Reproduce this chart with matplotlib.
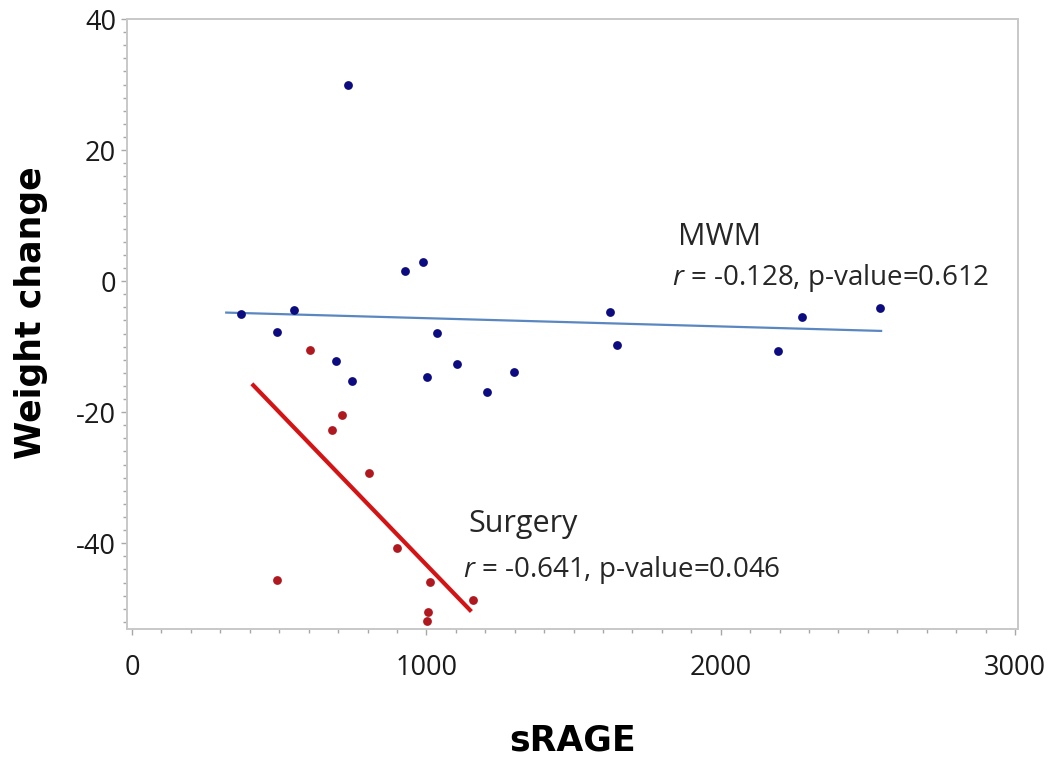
import numpy as np
import matplotlib
matplotlib.use("Agg")
import matplotlib.pyplot as plt
from matplotlib.ticker import MultipleLocator

# ------------------------------------------------------------------
# data
# ------------------------------------------------------------------
mwm_srage = [370, 493, 550, 734, 693, 748, 928, 989, 1036, 1002,
             1104, 1206, 1298, 1624, 1648, 2195, 2277, 2542]
mwm_weight = [-5.0, -7.8, -4.4, 29.9, -12.2, -15.3, 1.5, 2.9, -7.9, -14.7,
              -12.7, -16.9, -13.9, -4.7, -9.8, -10.7, -5.5, -4.1]

surg_srage = [605, 712, 679, 806, 899, 494, 1013, 1160, 1004, 1001]
surg_weight = [-10.5, -20.5, -22.7, -29.3, -40.7, -45.6, -45.9, -48.7,
               -50.5, -51.9]

# regression lines (end points as drawn in the reference)
mwm_fit_x = [320, 2545]
mwm_fit_y = [-4.8, -7.6]
surg_fit_x = [412, 1148]
surg_fit_y = [-15.9, -50.2]

mwm_label = "MWM"
mwm_stats = "$r$ = -0.128, p-value=0.612"
surg_label = "Surgery"
surg_stats = "$r$ = -0.641, p-value=0.046"

# ------------------------------------------------------------------
# plot
# ------------------------------------------------------------------
plt.rcParams["font.family"] = ["Open Sans", "DejaVu Sans"]
plt.rcParams["mathtext.fontset"] = "custom"
plt.rcParams["mathtext.it"] = "Open Sans:italic"
plt.rcParams["axes.unicode_minus"] = False

fig = plt.figure(figsize=(10.5, 7.63), dpi=100)
ax = fig.add_axes([0.121, 0.1756, 0.8485, 0.7994])

ax.plot(mwm_fit_x, mwm_fit_y, "-", color="#5b87c0", lw=1.6, zorder=2)
ax.plot(surg_fit_x, surg_fit_y, "-", color="#d41414", lw=3.0, zorder=2)
ax.scatter(mwm_srage, mwm_weight, s=40, color="#0c0c80", zorder=3,
           linewidths=0)
ax.scatter(surg_srage, surg_weight, s=40, color="#b01820", zorder=3,
           linewidths=0)

ax.text(1855, 5.5, mwm_label, fontsize=22, color="#262626", va="baseline")
ax.text(1835, -0.6, mwm_stats, fontsize=20, color="#262626", va="baseline")
ax.text(1142, -38.3, surg_label, fontsize=22, color="#262626",
        va="baseline")
ax.text(1125, -45.2, surg_stats, fontsize=20, color="#262626",
        va="baseline")

ax.set_xlim(-17, 3010)
ax.set_ylim(-53.1, 40)
ax.xaxis.set_major_locator(MultipleLocator(1000))
ax.xaxis.set_minor_locator(MultipleLocator(100))
ax.yaxis.set_major_locator(MultipleLocator(20))
ax.yaxis.set_minor_locator(MultipleLocator(2))

for s in ax.spines.values():
    s.set_color("#c8c8c8")
    s.set_linewidth(1.4)

ax.tick_params(which="both", direction="out", color="#a8a8a8", width=1,
               labelcolor="#1a1a1a", labelsize=19.5)
ax.tick_params(which="major", length=4)
ax.tick_params(which="minor", length=3)
ax.tick_params(axis="x", which="major", pad=14)
ax.tick_params(axis="y", which="major", pad=4)

fig.text(0.5455, 0.017, "sRAGE", fontsize=25, fontweight="bold",
         family="DejaVu Sans", ha="center", va="baseline")
fig.text(0.030, 0.59, "Weight change", fontsize=25, fontweight="bold",
         family="DejaVu Sans", rotation=90, ha="center", va="center")

fig.savefig("out.png", dpi=100)
